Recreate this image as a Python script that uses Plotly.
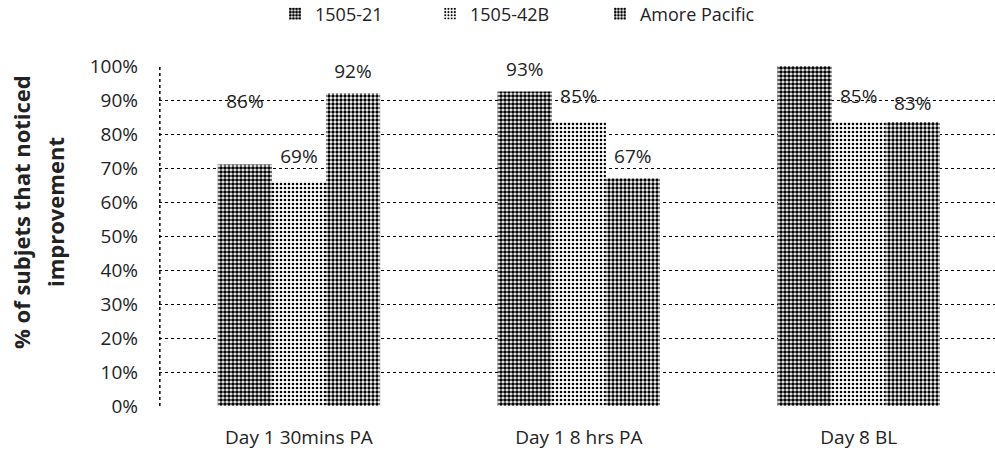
import plotly.graph_objects as go

categories = ["Day 1 30mins PA", "Day 1 8 hrs PA", "Day 8 BL"]
series_names = ["1505-21", "1505-42B", "Amore Pacific"]
bar_1505_21 = [71, 92.5, 100]
bar_1505_42b = [66, 83.5, 83.5]
bar_amore = [92, 67, 83.5]
label_1505_21 = [86, 93, 100]
label_1505_42b = [69, 85, 85]
label_amore = [92, 67, 83]
tick_vals = [0, 10, 20, 30, 40, 50, 60, 70, 80, 90, 100]
tick_text = ["0%", "10%", "20%", "30%", "40%", "50%", "60%", "70%", "80%", "90%", "100%"]
title_lines = ["% of subjets that noticed", "improvement"]

FONT = "Open Sans"
bars = [bar_1505_21, bar_1505_42b, bar_amore]
labels = [label_1505_21, label_1505_42b, label_amore]
solidities = [0.66, 0.33, 0.55]
label_y_offsets = [[3, 5.5, 6], [4, 5.5, 5.5], [6, 6, 5.5]]
legend_names = ["legend", "legend2", "legend3"]
legend_x = [0.2764, 0.4322, 0.603]

fig = go.Figure()
for i, name in enumerate(series_names):
    fig.add_trace(go.Bar(
        x=categories, y=bars[i], name=name, offsetgroup=str(i),
        legend=legend_names[i],
        marker=dict(color="white", line=dict(width=0),
                    pattern=dict(shape=".", fgcolor="black", bgcolor="white",
                                 size=4, solidity=solidities[i], fillmode="replace")),
    ))

for i in range(3):
    xs = [j + (i - 1) * 0.193 for j in range(len(categories))]
    fig.add_trace(go.Scatter(
        x=xs, y=[labels[i][j] + label_y_offsets[i][j] for j in range(3)],
        xaxis="x2", mode="text",
        text=[f"{v}%" for v in labels[i]], textposition="middle center",
        textfont=dict(family=FONT, size=19, color="#222"),
        showlegend=False, cliponaxis=False, hoverinfo="skip",
    ))

fig.add_shape(type="line", xref="paper", yref="paper", x0=0.001, x1=0.001, y0=0, y1=1,
              layer="above", line=dict(color="black", width=1.5, dash="dot"))

for k, (line, xp) in enumerate(zip(title_lines, [21, 55])):
    fig.add_annotation(xref="paper", yref="paper", x=(xp - 159) / 836,
                       y=(406 - 212) / 340, xanchor="center", yanchor="middle",
                       textangle=-90, showarrow=False, text=f"<b>{line}</b>",
                       font=dict(family=FONT, size=22, color="#222"))

legend_common = dict(orientation="h", xref="container", yref="container",
                     y=0.969, yanchor="middle", xanchor="left",
                     font=dict(family=FONT, size=18, color="#222"),
                     bgcolor="rgba(0,0,0,0)", itemwidth=30)

fig.update_layout(
    width=995, height=450,
    margin=dict(l=159, r=0, t=66, b=44),
    paper_bgcolor="white", plot_bgcolor="white",
    barmode="group", bargap=0.42, bargroupgap=0,
    font=dict(family=FONT, size=18, color="#222"),
    legend=dict(x=legend_x[0], **legend_common),
    legend2=dict(x=legend_x[1], **legend_common),
    legend3=dict(x=legend_x[2], **legend_common),
    xaxis=dict(range=[-0.5, 2.487], showgrid=False, ticks="", showline=False,
               automargin=False, tickfont=dict(family=FONT, size=19),
               ticklabelstandoff=18),
    xaxis2=dict(range=[-0.5, 2.487], overlaying="x", visible=False),
    yaxis=dict(range=[0, 100], tickvals=tick_vals, ticktext=tick_text,
               showgrid=True, gridcolor="black", griddash="dot", gridwidth=1,
               zeroline=False, showline=False, automargin=False,
               ticks="", tickfont=dict(family=FONT, size=19), ticklabelstandoff=20),
)
fig.write_html("out.html", config={"displayModeBar": False},
               post_script="document.body.style.margin='0';")
